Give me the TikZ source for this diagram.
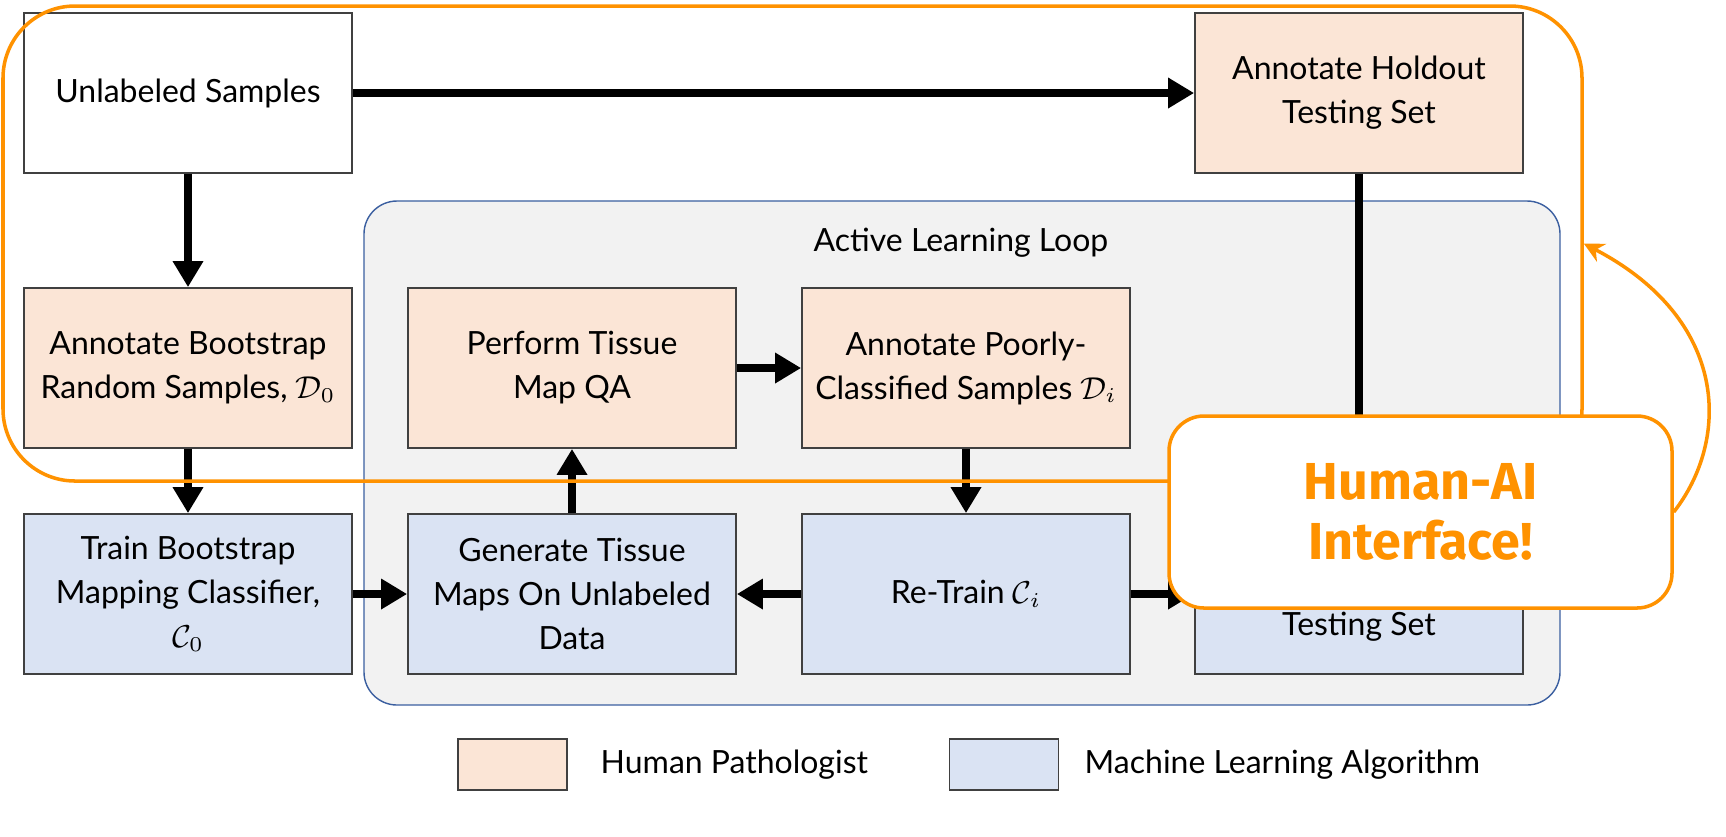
\documentclass[tikz,border=0pt]{standalone}
\usepackage{fontspec}
\setmainfont{Lato}
\newfontfamily\haifont{Fira Sans}
\usetikzlibrary{arrows.meta}
\definecolor{peach}{HTML}{FBE5D6}
\definecolor{paleblue}{HTML}{DAE3F3}
\definecolor{loopgray}{HTML}{F2F2F2}
\definecolor{loopline}{HTML}{3B5FA0}
\definecolor{boxline}{HTML}{404040}
\definecolor{hai}{HTML}{FF9200}

\begin{document}
\begin{tikzpicture}[>=Latex,
  box/.style={draw=boxline,line width=0.5pt,minimum width=3.28cm,minimum height=1.6cm,
    align=center,inner sep=2pt,font=\fontsize{9.1}{12.5}\selectfont},
  hp/.style={box,fill=peach},
  ml/.style={box,fill=paleblue},
  a/.style={-{Triangle[length=2.6mm,width=2.9mm]},line width=2.2pt,black},
  swatch/.style={draw=boxline,line width=0.5pt,minimum width=1.09cm,minimum height=0.51cm},
  lbl/.style={anchor=west,inner sep=0pt,font=\fontsize{9.1}{12.5}\selectfont}]
\useasboundingbox (0,0) rectangle (17.26,-8.36);
% active learning loop
\node[draw=loopline,line width=0.4pt,fill=loopgray,rounded corners=0.33cm,
  minimum width=11.96cm,minimum height=5.04cm] (loop) at (9.62,-4.53) {};
\node[font=\fontsize{9.1}{12.5}\selectfont] (looplbl) at (9.61,-2.43) {Active Learning Loop};

\node[box,fill=white] (unl) at (1.88,-0.93) {Unlabeled Samples};
\node[hp] (hold) at (13.59,-0.93) {Annotate Holdout\\Testing Set};
\node[hp] (annb) at (1.88,-3.68) {Annotate Bootstrap\\Random Samples, $\mathcal{D}_0$};
\node[hp] (perf) at (5.72,-3.68) {Perform Tissue\\Map QA};
\node[hp] (poor) at (9.66,-3.68) {Annotate Poorly-\\Classified Samples $\mathcal{D}_i$};
\node[ml] (trainb) at (1.88,-5.94) {Train Bootstrap\\Mapping Classifier,\\$\mathcal{C}_0$};
\node[ml] (gen) at (5.72,-5.94) {Generate Tissue\\Maps On Unlabeled\\Data};
\node[ml] (retr) at (9.66,-5.94) {Re-Train $\mathcal{C}_i$};
\node[ml] (test) at (13.59,-5.94) {~\\~\\Testing Set};

\draw[a] (unl)--(hold); \draw[a] (unl)--(annb);
\draw[a] (annb)--(trainb); \draw[a] (trainb)--(gen);
\draw[a] (gen)--(perf); \draw[a] (perf)--(poor);
\draw[a] (poor)--(retr); \draw[a] (retr)--(gen);
\draw[a] (retr)--(test); \draw[a] (hold)--(test);

% human-ai interface
\node[draw=hai,line width=1pt,rounded corners=0.72cm,minimum width=15.79cm,
  minimum height=4.75cm] (hum) at (7.925,-2.435) {};
\node[draw=hai,line width=1pt,fill=white,rounded corners=0.35cm,minimum width=5.03cm,
  minimum height=1.92cm,align=center,text=hai,
  font=\haifont\bfseries\fontsize{14.8}{17}\selectfont] (haibox) at (14.205,-5.12)
  {Human-AI\\Interface!};
\draw[hai,line width=1pt,-{Stealth[length=2mm,width=2mm]}]
  (haibox.east) .. controls (17.3,-4.4) and (17.3,-3.2) .. (hum.east);

% legend
\node[swatch,fill=peach] (lgh) at (5.125,-7.645) {};
\node[lbl] (lghtxt) at (6.0,-7.65) {Human Pathologist};
\node[swatch,fill=paleblue] (lgm) at (10.04,-7.645) {};
\node[lbl] (lgmtxt) at (10.84,-7.65) {Machine Learning Algorithm};
\end{tikzpicture}
\end{document}
